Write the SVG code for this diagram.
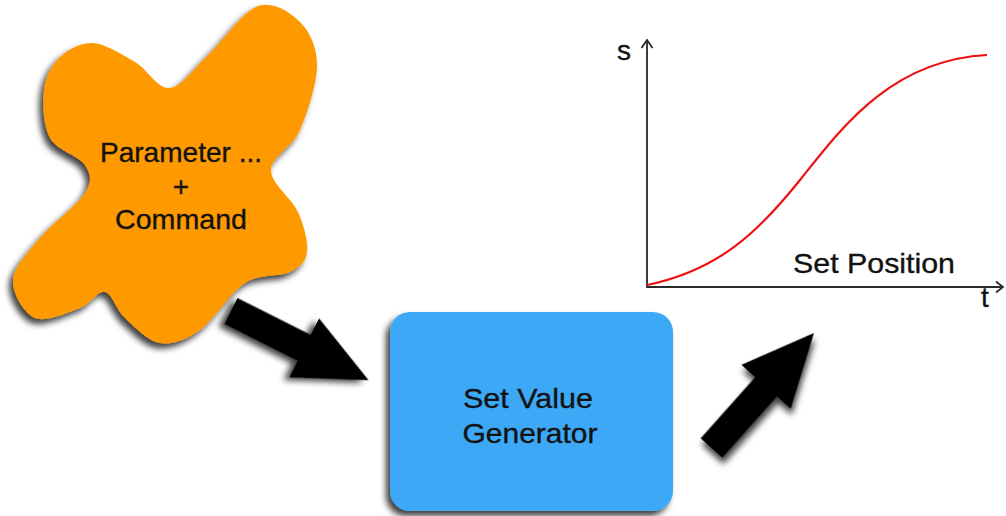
<svg xmlns="http://www.w3.org/2000/svg" width="1006" height="516" viewBox="0 0 1006 516">
<defs>
<filter id="sh" x="-20%" y="-20%" width="140%" height="140%">
<feGaussianBlur in="SourceAlpha" stdDeviation="3"/>
<feOffset dx="-4" dy="5" result="b"/>
<feFlood flood-color="#000" flood-opacity="0.75"/>
<feComposite in2="b" operator="in"/>
<feMerge><feMergeNode/><feMergeNode in="SourceGraphic"/></feMerge>
</filter>
<path id="arrow" d="M0,-14.5 L82,-14.5 L82,-33 L154,0 L82,33 L82,14.5 L0,14.5 Z"/>
</defs>
<style>
text{font-family:"Liberation Sans",Arial,sans-serif;fill:#121212;stroke:#121212;stroke-width:0.35;font-size:28px}
.c{text-anchor:middle}
.ax{stroke:#2a2a2a;stroke-width:1.8;fill:none}
</style>
<rect width="1006" height="516" fill="#fff"/>
<g id="parameter-command">
<path filter="url(#sh)" fill="#FF9900" d="M93,43 C105.5,43.8 122.2,54.5 135,62 C147.8,69.5 157.5,89.5 170,88 C182.5,86.5 195.3,66.7 210,53 C224.7,39.3 243,11.2 258,6 C273,0.8 290.2,12.2 300,22 C309.8,31.8 317,47 317,65 C317,83 307.7,112.5 300,130 C292.3,147.5 271.3,156.3 271,170 C270.7,183.7 292,198.3 298,212 C304,225.7 308.3,242 307,252 C305.7,262 300.3,266.8 290,272 C279.7,277.2 260,273.3 245,283 C230,292.7 214.2,320 200,330 C185.8,340 172.5,345 160,343 C147.5,341 134.2,326.5 125,318 C115.8,309.5 112.5,293.7 105,292 C97.5,290.3 91.7,303.7 80,308 C68.3,312.3 46.2,322.7 35,318 C23.8,313.3 12.2,293.3 13,280 C13.8,266.7 28,252.5 40,238 C52,223.5 77.5,205.2 85,193 C92.5,180.8 90.8,174.2 85,165 C79.2,155.8 56.8,150.5 50,138 C43.2,125.5 42.3,103.5 44,90 C45.7,76.5 51.8,64.8 60,57 C68.2,49.2 80.5,43 93,43 Z"/>
<text class="c" x="181" y="162" textLength="162" lengthAdjust="spacingAndGlyphs">Parameter ...</text>
<text class="c" x="181" y="196">+</text>
<text class="c" x="181" y="229" textLength="132" lengthAdjust="spacingAndGlyphs">Command</text>
</g>
<g id="set-value-generator">
<rect filter="url(#sh)" x="390" y="312" width="283" height="199" rx="20" fill="#3DA8F5"/>
<text class="c" x="528" y="408" textLength="130" lengthAdjust="spacingAndGlyphs">Set Value</text>
<text class="c" x="530" y="443" textLength="135" lengthAdjust="spacingAndGlyphs">Generator</text>
</g>
<g id="set-position-graph">
<path class="ax" d="M647,40 L647,287 L1003,287"/>
<path class="ax" d="M641.5,48 L647,40 L652.5,48"/>
<path class="ax" d="M996,281.5 L1003,287 L996,292.5"/>
<text x="617" y="60" font-size="25">s</text>
<text x="981" y="307" font-size="25">t</text>
<path d="M647,285 C720,270 760,230 800,180 S890,60 987,55" fill="none" stroke="#EE1111" stroke-width="2.2"/>
<text x="793" y="273" textLength="162" lengthAdjust="spacingAndGlyphs">Set Position</text>
</g>
<g id="connectors" fill="#000">
<use href="#arrow" filter="url(#sh)" transform="translate(231,311) rotate(26.7)"/>
<use href="#arrow" filter="url(#sh)" transform="translate(711.5,448) rotate(-48.3)"/>
</g>
</svg>
